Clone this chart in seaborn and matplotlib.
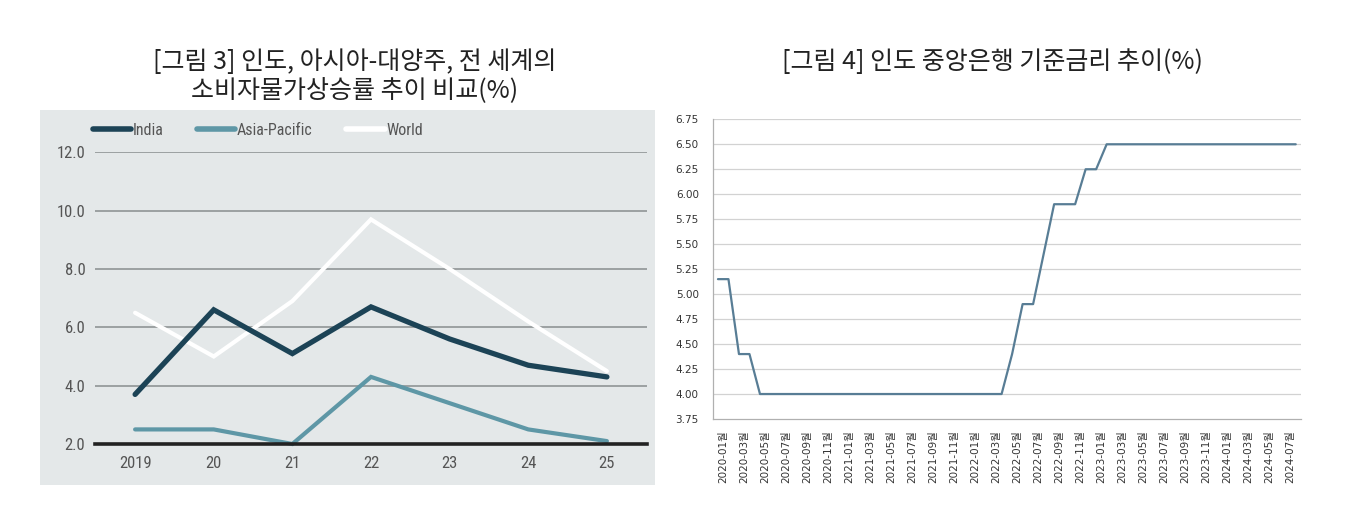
import numpy as np
import pandas as pd
import matplotlib
matplotlib.use("Agg")
import matplotlib.pyplot as plt
from matplotlib.patches import Rectangle
from matplotlib.lines import Line2D
from matplotlib.ticker import FixedLocator, NullFormatter
import seaborn as sns

# ---------------- data ----------------
years = ["2019", "20", "21", "22", "23", "24", "25"]
india = [3.7, 6.6, 5.1, 6.7, 5.6, 4.7, 4.3]
asia_pacific = [2.5, 2.5, 2.0, 4.3, 3.4, 2.5, 2.1]
world = [6.5, 5.0, 6.9, 9.7, 8.0, 6.2, 4.5]
series_names = ["India", "Asia-Pacific", "World"]
left_yticks = [2.0, 4.0, 6.0, 8.0, 10.0, 12.0]

# RBI repo rate, monthly 2020-01 .. 2024-08
repo_rate = [5.15, 5.15, 4.40, 4.40, 4.00, 4.00, 4.00, 4.00, 4.00, 4.00,
             4.00, 4.00, 4.00, 4.00, 4.00, 4.00, 4.00, 4.00, 4.00, 4.00,
             4.00, 4.00, 4.00, 4.00, 4.00, 4.00, 4.00, 4.00, 4.40, 4.90,
             4.90, 5.40, 5.90, 5.90, 5.90, 6.25, 6.25, 6.50, 6.50, 6.50,
             6.50, 6.50, 6.50, 6.50, 6.50, 6.50, 6.50, 6.50, 6.50, 6.50,
             6.50, 6.50, 6.50, 6.50, 6.50, 6.50]
rate_tick_labels = ["2020-01월", "2020-03월", "2020-05월", "2020-07월", "2020-09월", "2020-11월",
                    "2021-01월", "2021-03월", "2021-05월", "2021-07월", "2021-09월", "2021-11월",
                    "2022-01월", "2022-03월", "2022-05월", "2022-07월", "2022-09월", "2022-11월",
                    "2023-01월", "2023-03월", "2023-05월", "2023-07월", "2023-09월", "2023-11월",
                    "2024-01월", "2024-03월", "2024-05월", "2024-07월"]
rate_yticks = [3.75, 4.00, 4.25, 4.50, 4.75, 5.00, 5.25, 5.50, 5.75, 6.00, 6.25, 6.50, 6.75]

# ---------------- style ----------------
sns.set_style("white")
plt.rcParams["font.family"] = ["DejaVu Sans", "Noto Sans CJK KR"]
COND = ["Liberation Sans Narrow", "Roboto Condensed", "DejaVu Sans"]
KR = ["Noto Sans CJK KR", "DejaVu Sans"]

fig = plt.figure(figsize=(13.58, 5.22), dpi=100)

# panel background of left chart
W, H = 1358.0, 522.0
fig.add_artist(Rectangle((40 / W, 1 - 485 / H), 615 / W, 375 / H,
                         transform=fig.transFigure, facecolor="#e4e8e9",
                         edgecolor="none", zorder=-10))

# ---------------- left chart ----------------
ax1 = fig.add_axes([95 / W, 1 - 444 / H, 552 / W, (444 - 152.3) / H])
ax1.set_facecolor("none")
df = pd.DataFrame({
    "x": list(range(len(years))) * 3,
    "value": india + asia_pacific + world,
    "series": [series_names[0]] * len(years) + [series_names[1]] * len(years)
              + [series_names[2]] * len(years),
})
colors = {"India": "#1c4356", "Asia-Pacific": "#5e97a6", "World": "#ffffff"}
widths = {"India": 3.8, "Asia-Pacific": 3.0, "World": 3.0}
for name in ["World", "Asia-Pacific", "India"]:
    sub = df[df["series"] == name]
    sns.lineplot(data=sub, x="x", y="value", ax=ax1, color=colors[name],
                 linewidth=widths[name], legend=False, zorder=3,
                 solid_joinstyle="miter")
for ln in ax1.lines:
    ln.set_clip_on(False)

ax1.set_xlim(-0.51, 6.51)
ax1.set_ylim(2.0, 12.0)
ax1.set_xticks(range(len(years)))
ax1.set_xticklabels(years)
ax1.set_yticks(left_yticks)
ax1.set_yticklabels([f"{v:.1f}" for v in left_yticks])
for v in left_yticks[1:]:
    ax1.axhline(v, color="#8f9496", lw=1.2, zorder=1)
for s in ["top", "right", "left"]:
    ax1.spines[s].set_visible(False)
ax1.spines["bottom"].set_color("#222222")
ax1.spines["bottom"].set_linewidth(2.6)
ax1.spines["bottom"].set_zorder(4)
ax1.tick_params(axis="both", length=0, colors="#555555")
ax1.tick_params(axis="y", pad=7)
ax1.tick_params(axis="x", pad=9)
for lab in ax1.get_xticklabels() + ax1.get_yticklabels():
    lab.set_family(COND)
    lab.set_fontsize(12)
    lab.set_color("#555555")
ax1.set_xlabel("")
ax1.set_ylabel("")

handles = [Line2D([], [], color=colors[n], lw=4.0) for n in series_names]
leg = ax1.legend(handles, series_names, loc="center left",
                 bbox_to_anchor=(-0.004, 1.076), ncol=3, frameon=False,
                 handlelength=2.4, handletextpad=0.1, columnspacing=2.1,
                 borderaxespad=0, borderpad=0,
                 prop={"family": COND, "size": 11.5})
for t in leg.get_texts():
    t.set_color("#555555")

# ---------------- right chart ----------------
ax2 = fig.add_axes([712.7 / W, 1 - 419 / H, 588.3 / W, (419 - 119.3) / H])
x_idx = np.arange(len(repo_rate))
sns.lineplot(x=x_idx, y=repo_rate, ax=ax2, color="#587d95", linewidth=1.6,
             zorder=3)
ax2.set_xlim(-0.5, len(repo_rate) - 0.5)
ax2.set_ylim(3.75, 6.75)
ax2.set_yticks(rate_yticks)
ax2.set_yticklabels([f"{v:.2f}" for v in rate_yticks])
major_pos = [i + 0.5 for i in range(0, 2 * len(rate_tick_labels), 2)]
ax2.set_xticks(major_pos)
ax2.set_xticklabels(rate_tick_labels, rotation=90, ha="center", va="top")
ax2.xaxis.set_minor_locator(FixedLocator(np.arange(-0.5, len(repo_rate), 1.0)))
ax2.xaxis.set_minor_formatter(NullFormatter())
for v in rate_yticks[1:]:
    ax2.axhline(v, color="#d2d2d2", lw=0.9, zorder=1)
for s in ["top", "right"]:
    ax2.spines[s].set_visible(False)
for s in ["left", "bottom"]:
    ax2.spines[s].set_color("#b0b0b0")
    ax2.spines[s].set_linewidth(0.9)
ax2.tick_params(axis="both", which="both", direction="out", length=3,
                width=0.8, color="#b0b0b0", labelcolor="#333333")
ax2.tick_params(axis="y", pad=7, labelsize=7.5)
ax2.tick_params(axis="x", pad=5, labelsize=7.5)
for lab in ax2.get_xticklabels():
    lab.set_family(["DejaVu Sans", "Noto Sans CJK KR"])
for lab in ax2.get_yticklabels():
    lab.set_family(["DejaVu Sans"])
ax2.set_xlabel("")
ax2.set_ylabel("")

# ---------------- titles ----------------
fig.text(355 / W, 1 - 62 / H, "[그림 3] 인도, 아시아-대양주, 전 세계의",
         ha="center", va="center", fontsize=18, family=KR, color="#222222")
fig.text(355 / W, 1 - 91 / H, "소비자물가상승률 추이 비교(%)",
         ha="center", va="center", fontsize=18, family=KR, color="#222222")
fig.text(992 / W, 1 - 62 / H, "[그림 4] 인도 중앙은행 기준금리 추이(%)",
         ha="center", va="center", fontsize=18, family=KR, color="#222222")

fig.savefig("out.png", dpi=100, facecolor="white")
